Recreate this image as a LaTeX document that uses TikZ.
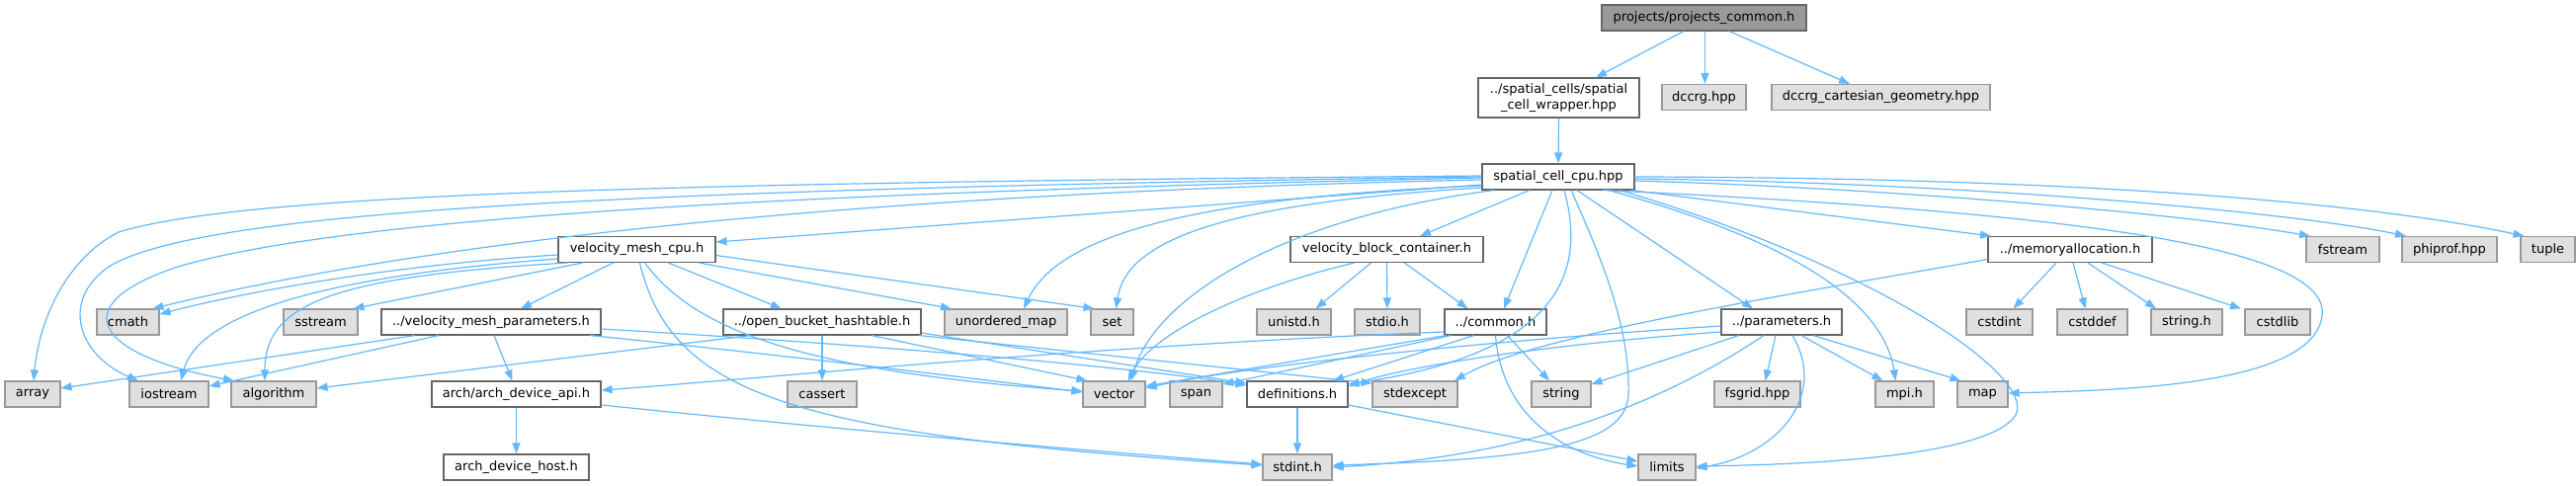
\documentclass[tikz,border=0pt]{standalone}
\usepackage{fontspec}
\setmainfont{DejaVu Sans}
\usetikzlibrary{arrows.meta}
\definecolor{eb}{HTML}{63B8FF}
\definecolor{gA}{HTML}{666666}
\definecolor{gB}{HTML}{999999}
\definecolor{gC}{HTML}{E0E0E0}
\tikzset{
  base/.style={rectangle, minimum height=26pt, inner sep=0pt, line width=1.1pt, font=\fontsize{13}{15.5}\selectfont},
  usr/.style={base, draw=gA, fill=white},
  sys/.style={base, draw=gB, fill=gC},
  rootnode/.style={base, draw=gA, fill=gB},
  edge/.style={draw=eb, line width=1.2pt, -{Triangle[length=11pt,width=8pt]}}
}
\begin{document}
\begin{tikzpicture}[x=1pt,y=-1pt]
\useasboundingbox (0,0) rectangle (2607,491);
% row 0-2
\node[rootnode, minimum width=207pt] (pc) at (1724.5,18) {projects/projects\_common.h};
\node[usr, minimum width=163pt, minimum height=40pt, align=center] (scw) at (1577.5,99) {../spatial\_cells/spatial\\\_cell\_wrapper.hpp};
\node[sys, minimum width=85pt] (dccrg) at (1724.5,98.5) {dccrg.hpp};
\node[sys, minimum width=221pt] (dcg) at (1903.5,98.5) {dccrg\_cartesian\_geometry.hpp};
\node[usr, minimum width=154pt] (scc) at (1577,179) {spatial\_cell\_cpu.hpp};
% row 3
\node[usr, minimum width=159pt] (vmc) at (644.5,252.5) {velocity\_mesh\_cpu.h};
\node[usr, minimum width=195pt] (vbc) at (1403.5,252.5) {velocity\_block\_container.h};
\node[usr, minimum width=166pt] (mem) at (2095,252.5) {../memoryallocation.h};
\node[sys, minimum width=74pt] (fstream) at (2371,252.5) {fstream};
\node[sys, minimum width=96pt] (phiprof) at (2479,252.5) {phiprof.hpp};
\node[sys, minimum width=55pt] (tuple) at (2578.5,252.5) {tuple};
% row 4
\node[sys, minimum width=63pt] (cmath) at (129.5,326) {cmath};
\node[sys, minimum width=75pt] (sstream) at (324.5,326) {sstream};
\node[usr, minimum width=222pt] (vmp) at (497,326) {../velocity\_mesh\_parameters.h};
\node[usr, minimum width=200pt] (obh) at (832,326) {../open\_bucket\_hashtable.h};
\node[sys, minimum width=124pt] (umap) at (1018,326) {unordered\_map};
\node[sys, minimum width=43pt] (set) at (1125.5,326) {set};
\node[sys, minimum width=75pt] (unistd) at (1309.5,326) {unistd.h};
\node[sys, minimum width=66pt] (stdio) at (1404,326) {stdio.h};
\node[usr, minimum width=103pt] (common) at (1513.5,326) {../common.h};
\node[usr, minimum width=122pt] (params) at (1803,326) {../parameters.h};
\node[sys, minimum width=67pt] (cstdint) at (2023.5,326) {cstdint};
\node[sys, minimum width=71pt] (cstddef) at (2117.5,326) {cstddef};
\node[sys, minimum width=72pt] (stringh) at (2213,326) {string.h};
\node[sys, minimum width=66pt] (cstdlib) at (2305,326) {cstdlib};
% row 5
\node[sys, minimum width=56pt] (array) at (33,399) {array};
\node[sys, minimum width=80pt] (iostream) at (171,399) {iostream};
\node[sys, minimum width=86pt] (algorithm) at (277,399) {algorithm};
\node[usr, minimum width=171pt] (api) at (522.5,399) {arch/arch\_device\_api.h};
\node[sys, minimum width=70pt] (cassert) at (832,399) {cassert};
\node[sys, minimum width=63pt] (vector) at (1127.5,399) {vector};
\node[sys, minimum width=53pt] (span) at (1210.5,399) {span};
\node[usr, minimum width=102pt] (defs) at (1313,399) {definitions.h};
\node[sys, minimum width=86pt] (stdexcept) at (1432,399) {stdexcept};
\node[sys, minimum width=60pt] (string) at (1580,399) {string};
\node[sys, minimum width=87pt] (fsgrid) at (1778.5,399) {fsgrid.hpp};
\node[sys, minimum width=59pt] (mpi) at (1927.5,399) {mpi.h};
\node[sys, minimum width=51pt] (map) at (2006.5,399) {map};
% row 6
\node[usr, minimum width=147pt] (host) at (522.5,473) {arch\_device\_host.h};
\node[sys, minimum width=70pt] (stdint) at (1313,473) {stdint.h};
\node[sys, minimum width=58pt] (limits) at (1687,473) {limits};

% ---- edges ----
\draw[edge] ([xshift=-20.5pt]pc.south) -- ([xshift=37.5pt]scw.north);
\draw[edge] ([xshift=1pt]pc.south) -- ([xshift=1pt]dccrg.north);
\draw[edge] ([xshift=25.5pt]pc.south) -- ([xshift=-31.5pt]dcg.north);
\draw[edge] (scw.south) -- (scc.north);
% scc
\draw[edge] ([yshift=-8pt]scc.west) -- ([yshift=7.5pt]vmc.east);
\draw[edge] ([yshift=1pt]scc.west) .. controls (700,185) and (250,195) .. (120,235) .. controls (70,260) and (40,320) .. ([xshift=1pt]array.north);
\draw[edge] ([yshift=0pt]scc.west) .. controls (600,192) and (200,215) .. (110,270) .. controls (60,305) and (80,360) .. ([xshift=-31pt]iostream.north);
\draw[edge] ([yshift=-1pt]scc.west) .. controls (800,195) and (350,220) .. (180,270) .. controls (60,310) and (100,360) .. ([xshift=-40pt]algorithm.north);
\draw[edge] ([yshift=-3pt]scc.west) .. controls (900,195) and (450,240) .. ([xshift=25pt]cmath.north);
\draw[edge] ([yshift=-9pt]scc.west) .. controls (1200,200) and (1070,240) .. ([xshift=18pt]umap.north);
\draw[edge] ([yshift=-11pt]scc.west) .. controls (1250,205) and (1140,240) .. ([xshift=4pt]set.north);
\draw[edge] ([xshift=-65pt]scc.south) .. controls (1300,220) and (1170,300) .. ([xshift=17pt]vector.north);
\draw[edge] ([xshift=-29pt]scc.south) -- ([xshift=33.5pt]vbc.north);
\draw[edge] ([xshift=-6pt]scc.south) -- ([xshift=8.5pt]common.north);
\draw[edge] ([xshift=6pt]scc.south) .. controls (1610,290) and (1560,360) .. ([yshift=10pt]defs.east);
\draw[edge] ([xshift=13pt]scc.south) .. controls (1620,260) and (1650,330) .. (1648,400) .. controls (1645,450) and (1560,465) .. ([yshift=2pt]stdint.east);
\draw[edge] ([xshift=19pt]scc.south) -- ([xshift=-29pt]params.north);
\draw[edge] ([xshift=51pt]scc.south) .. controls (1800,240) and (1905,300) .. ([xshift=-9pt]mpi.north);
\draw[edge] ([xshift=62pt]scc.south) .. controls (1900,270) and (2060,380) .. (2040,420) .. controls (2015,460) and (1850,470) .. ([yshift=1pt]limits.east);
\draw[edge] ([xshift=74pt]scc.south) -- ([xshift=-80pt]mem.north);
\draw[edge] ([xshift=45pt]scc.south) .. controls (2100,215) and (2360,250) .. (2350,320) .. controls (2340,390) and (2150,395) .. ([yshift=1pt]map.east);
\draw[edge] ([yshift=-4pt]scc.east) .. controls (1900,190) and (2200,215) .. ([xshift=-33pt]fstream.north);
\draw[edge] ([yshift=-2pt]scc.east) .. controls (2000,185) and (2320,215) .. ([xshift=-44pt]phiprof.north);
\draw[edge] ([yshift=0pt]scc.east) .. controls (2150,180) and (2420,210) .. ([xshift=-24pt]tuple.north);
% vmc
\draw[edge] ([yshift=-5.5pt]vmc.west) .. controls (400,268) and (250,295) .. ([yshift=8pt]cmath.east);
\draw[edge] ([yshift=-9.5pt]vmc.west) .. controls (320,280) and (200,320) .. ([xshift=12pt]iostream.north);
\draw[edge] ([xshift=-70pt]vmc.south) .. controls (330,280) and (268,310) .. ([xshift=-9pt]algorithm.north);
\draw[edge] ([xshift=-55pt]vmc.south) -- ([xshift=33pt]sstream.north);
\draw[edge] ([xshift=-24pt]vmc.south) -- ([xshift=30pt]vmp.north);
\draw[edge] ([xshift=32pt]vmc.south) -- ([xshift=-41pt]obh.north);
\draw[edge] ([xshift=63pt]vmc.south) -- ([xshift=-55pt]umap.north);
\draw[edge] ([yshift=-6pt]vmc.east) -- ([xshift=-18pt]set.north);
\draw[edge] ([xshift=8pt]vmc.south) .. controls (700,330) and (800,375) .. ([yshift=3pt]vector.west);
\draw[edge] ([xshift=3pt]vmc.south) .. controls (680,400) and (800,440) .. ([yshift=2pt]stdint.west);
% vmp
\draw[edge] ([xshift=-77pt]vmp.south) -- ([yshift=6pt]array.east);
\draw[edge] ([xshift=-53pt]vmp.south) -- ([yshift=8pt]iostream.east);
\draw[edge] ([xshift=3pt]vmp.south) -- ([xshift=-4pt]api.north);
\draw[edge] ([xshift=100pt]vmp.south) .. controls (800,360) and (1000,385) .. ([yshift=2pt]vector.west);
\draw[edge] ([yshift=-7pt]vmp.east) .. controls (900,350) and (1150,372) .. ([yshift=9pt]defs.west);
% obh
\draw[edge] ([xshift=-72pt]obh.south) -- ([yshift=6pt]algorithm.east);
\draw[edge] (obh.south) -- (cassert.north);
\draw[edge] ([xshift=50pt]obh.south) -- ([xshift=-27pt]vector.north);
\draw[edge] ([yshift=-11pt]obh.east) -- ([yshift=11pt]defs.west);
\draw[edge] ([xshift=98pt]obh.south) -- ([yshift=11pt]stdexcept.west);
% vbc
\draw[edge] ([xshift=-16pt]vbc.south) -- ([xshift=22pt]unistd.north);
\draw[edge] (vbc.south) -- (stdio.north);
\draw[edge] ([xshift=18pt]vbc.south) -- ([xshift=-28pt]common.north);
\draw[edge] ([xshift=-33pt]vbc.south) .. controls (1250,295) and (1165,340) .. ([xshift=14pt]vector.north);
% common
\draw[edge] ([xshift=-50pt]common.south) -- ([yshift=8pt]vector.east);
\draw[edge] ([xshift=-45pt]common.south) -- ([yshift=10pt]span.east);
\draw[edge] ([xshift=-22pt]common.south) -- ([xshift=36pt]defs.north);
\draw[edge] ([xshift=12pt]common.south) -- ([xshift=-12pt]string.north);
\draw[edge] (common.south) .. controls (1520,420) and (1580,460) .. ([yshift=1pt]limits.west);
\draw[edge] ([yshift=-10pt]common.west) .. controls (1100,350) and (750,385) .. ([yshift=4pt]api.east);
% params
\draw[edge] ([yshift=-4pt]params.west) .. controls (1500,345) and (1250,372) .. ([yshift=6pt]vector.east);
\draw[edge] ([yshift=-10pt]params.west) .. controls (1550,350) and (1420,372) .. ([yshift=8pt]defs.east);
\draw[edge] ([xshift=-43pt]params.south) -- ([yshift=10pt]string.east);
\draw[edge] ([xshift=-18pt]params.south) .. controls (1650,430) and (1500,465) .. (stdint.east);
\draw[edge] ([xshift=-6pt]params.south) -- ([xshift=8pt]fsgrid.north);
\draw[edge] ([xshift=11pt]params.south) .. controls (1850,400) and (1800,460) .. ([yshift=-1pt]limits.east);
\draw[edge] ([xshift=20pt]params.south) -- ([xshift=-22pt]mpi.north);
\draw[edge] ([xshift=32pt]params.south) -- ([xshift=-22pt]map.north);
% definitions
\draw[edge] (defs.south) -- (stdint.north);
\draw[edge] ([yshift=-11pt]defs.east) -- ([yshift=6pt]limits.west);
% arch api
\draw[edge] (api.south) -- (host.north);
\draw[edge] ([yshift=-11pt]api.east) .. controls (900,440) and (1150,460) .. ([yshift=3pt]stdint.west);
% memoryallocation
\draw[edge] ([xshift=-14pt]mem.south) -- ([xshift=14pt]cstdint.north);
\draw[edge] ([xshift=3pt]mem.south) -- ([xshift=-7pt]cstddef.north);
\draw[edge] ([xshift=18pt]mem.south) -- ([xshift=-31pt]stringh.north);
\draw[edge] ([xshift=32pt]mem.south) -- ([xshift=-37pt]cstdlib.north);
\draw[edge] ([yshift=-10pt]mem.west) .. controls (1800,300) and (1550,340) .. ([xshift=40pt]stdexcept.north);
\end{tikzpicture}
\end{document}
